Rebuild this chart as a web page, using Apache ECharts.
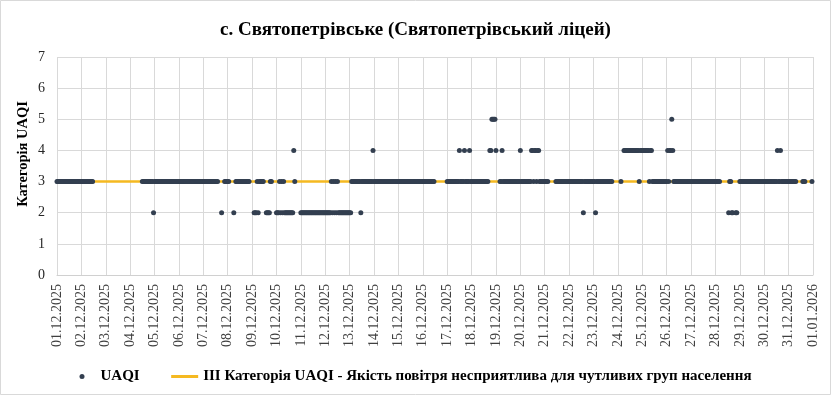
<!DOCTYPE html>
<html><head><meta charset="utf-8">
<script src="https://cdn.jsdelivr.net/npm/echarts@6/dist/echarts.min.js"></script>
<style>html,body{margin:0;padding:0;background:#fff}#c{width:831px;height:395px}</style>
</head><body><div id="c"></div>
<script>
const chartTitle = 'с. Святопетрівське (Святопетрівський ліцей)';
const yAxisName = 'Категорія UAQI';
const seriesName = 'UAQI';
const thresholdName = 'ІІІ Категорія UAQI - Якість повітря несприятлива для чутливих груп населення';
const thresholdValue = 3;
const yTicks = [0, 1, 2, 3, 4, 5, 6, 7];
const dateLabels = ['01.12.2025','02.12.2025','03.12.2025','04.12.2025','05.12.2025','06.12.2025','07.12.2025','08.12.2025','09.12.2025','10.12.2025','11.12.2025','12.12.2025','13.12.2025','14.12.2025','15.12.2025','16.12.2025','17.12.2025','18.12.2025','19.12.2025','20.12.2025','21.12.2025','22.12.2025','23.12.2025','24.12.2025','25.12.2025','26.12.2025','27.12.2025','28.12.2025','29.12.2025','30.12.2025','31.12.2025','01.01.2026'];
// hourly UAQI category per day (24 chars, hours 00..23); '.' = no data
const hourlyUAQI = [
  '333333333333333333333333', // 01.12
  '333333333333............', // 02.12
  '........................', // 03.12
  '............333333333332', // 04.12
  '333333333333333333333333', // 05.12
  '333333333333333333333333', // 06.12
  '333333333333333...2..333', // 07.12
  '33....2.33333333333333..', // 08.12
  '..2223233333..222233....', // 09.12
  '2223232322222222243.....', // 10.12
  '222222222222222222222222', // 11.12
  '222222323232322222222222', // 12.12
  '223333333332333333333334', // 13.12
  '333333333333333333333333', // 14.12
  '333333333333333333333333', // 15.12
  '333333333333............', // 16.12
  '333333333333433334333343', // 17.12
  '33333333333333333.445555', // 18.12
  '4...33433333333333333333', // 19.12
  '433333333334434434433333', // 20.12
  '3333.......3333333333333', // 21.12
  '333333333333332333333333', // 22.12
  '3323333333333333333.....', // 23.12
  '...3..444444444444444344', // 24.12
  '444444434433333333333333', // 25.12
  '343445433333333333333333', // 26.12
  '333333333333333333333333', // 27.12
  '33333........23322..22..', // 28.12
  '333333333333333333333333', // 29.12
  '333333333333343343333333', // 30.12
  '33333333......333......3'  // 31.12
];

const uaqiPoints = [];
hourlyUAQI.forEach((day, d) => {
  for (let h = 0; h < 24; h++) {
    const c = day[h];
    if (c && c !== '.') uaqiPoints.push([d * 24 + h, Number(c)]);
  }
});
const totalHours = hourlyUAQI.length * 24;
const thresholdLine = [];
for (let h = 0; h < totalHours; h++) thresholdLine.push([h, thresholdValue]);

const serif = 'Liberation Serif, Times New Roman, serif';
const chart = echarts.init(document.getElementById('c'), null, {renderer: 'canvas'});
chart.setOption({
  animation: false,
  backgroundColor: '#fff',
  graphic: [{type: 'rect', silent: true, z: 100,
    shape: {x: 0.5, y: 0.5, width: 830, height: 394},
    style: {fill: null, stroke: '#D9D9D9', lineWidth: 1}}],
  title: {text: chartTitle, left: 'center', top: 16,
    textStyle: {fontFamily: serif, fontWeight: 'bold', fontSize: 19, color: '#000'}},
  grid: {left: 57, right: 18, top: 57, bottom: 120, containLabel: false, outerBoundsMode: 'none'},
  xAxis: {type: 'value', min: 0, max: totalHours, interval: 24,
    axisLine: {lineStyle: {color: '#D0D0D0'}}, axisTick: {show: false},
    splitLine: {show: true, lineStyle: {color: '#D9D9D9'}},
    axisLabel: {rotate: 90, margin: 9, fontFamily: serif, fontSize: 14, color: '#404040',
      showMinLabel: true, showMaxLabel: true, hideOverlap: false,
      formatter: v => dateLabels[Math.round(v / 24)] || ''}},
  yAxis: {type: 'value', min: yTicks[0], max: yTicks[yTicks.length - 1], interval: 1,
    name: yAxisName, nameLocation: 'middle', nameGap: 26, nameMoveOverlap: false,
    nameTextStyle: {fontFamily: serif, fontWeight: 'bold', fontSize: 14.5, color: '#000',
      padding: [0, 0, 0, 24]},
    axisLine: {show: false}, axisTick: {show: false},
    splitLine: {lineStyle: {color: '#D9D9D9'}},
    axisLabel: {margin: 12, fontFamily: serif, fontSize: 14, color: '#262626'}},
  legend: {left: 'center', top: 364, itemWidth: 27, itemHeight: 5, itemGap: 30,
    textStyle: {fontFamily: serif, fontWeight: 'bold', fontSize: 15, color: '#000'},
    data: [{name: seriesName, icon: 'circle'},
           {name: thresholdName, itemStyle: {opacity: 0}, lineStyle: {width: 3}}]},
  series: [
    {name: thresholdName, type: 'line', data: thresholdLine, showSymbol: false, symbol: 'none',
      lineStyle: {color: '#F5B921', width: 2.5}, itemStyle: {color: '#F5B921'}, z: 1},
    {name: seriesName, type: 'scatter', data: uaqiPoints, symbol: 'circle', symbolSize: 5,
      itemStyle: {color: '#333F50', opacity: 1}, z: 2}
  ]
});
</script></body></html>
